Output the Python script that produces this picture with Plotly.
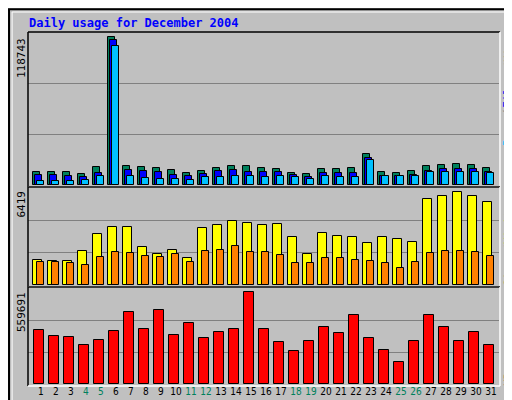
import plotly.graph_objects as go

days = list(range(1, 32))
weekend = {4, 5, 11, 12, 18, 19, 25, 26}
hits = [10744,10744,10744,9133,14774,118743,15580,14774,13968,12356,9939,11550,13968,15580,15580,13968,
        13162,9939,9133,13162,13162,13968,25250,10744,9939,11550,15580,16385,17191,16385,13968]
files = [8327,8327,7521,6715,9939,116310,12356,11550,10744,8327,7521,9133,11550,12356,10744,10744,
         10744,8327,6715,9939,9939,9939,22026,7521,7521,8327,11550,13162,13162,13162,10744]
pages = [3492,3492,3492,4298,7521,111475,7521,5910,5104,5104,4298,6715,6715,7521,7521,6715,
         7521,6715,5104,7521,6715,6715,20414,7521,7521,7521,10744,10744,10744,10744,9939]
visits = [1761,1692,1692,2317,3499,3986,3986,2595,2109,2387,1831,3916,4125,4403,4264,4125,
          4194,3291,2109,3569,3360,3291,2873,3291,3152,2943,5932,6141,6419,6141,5724]
sites = [1622,1622,1553,1414,1900,2248,2178,1970,1900,2109,1622,2317,2387,2665,2248,2248,
         2039,1553,1553,1831,1831,1761,1692,1553,1205,1622,2178,2317,2317,2248,1970]
kbytes = [326830,290060,283930,234910,265550,320700,437140,332960,449390,296190,369730,277800,314570,332960,559691,332960,
          253290,198140,259420,345210,308440,418750,277800,204270,136860,259420,418750,345210,259420,314570,234910]

W, H = 512, 400
fig = go.Figure()
xr = [1 - 5/15, 1 - 5/15 + 471/15]
dom_x = [20/W, 491/W]
panels = [
    ("y", 25, 177, 118743 * 152 / 148),
    ("y2", 180, 277, 6419 * 96 / 92),
    ("y3", 280, 376, 559691 * 95 / 91),
]

def bar(vals, color, off, wid, yax):
    fig.add_trace(go.Bar(x=days, y=vals, offset=off, width=wid, marker_color=color,
                         marker_line=dict(color="black", width=1), xaxis="x", yaxis=yax,
                         showlegend=False, hoverinfo="skip"))

bar(hits, "#00805c", 0, 0.47, "y")
bar(files, "#0000ff", 0.153, 0.47, "y")
bar(pages, "#00c0ff", 0.287, 0.47, "y")
bar(visits, "#ffff00", 0, 0.58, "y2")
bar(sites, "#ff8000", 0.27, 0.45, "y2")
bar(kbytes, "#ff0000", 0.067, 0.68, "y3")

ticktext = [f"<span style='color:#00805c'>{d}</span>" if d in weekend else str(d) for d in days]
lay = dict(
    width=W, height=H, margin=dict(l=0, r=0, t=0, b=0, autoexpand=False), paper_bgcolor="#c0c0c0",
    plot_bgcolor="#c0c0c0", barmode="overlay", bargap=0,
    font=dict(family="DejaVu Sans Mono", size=11, color="black"),
    xaxis=dict(domain=dom_x, range=xr, anchor="y3", tickvals=[d + 0.53 for d in days],
               ticktext=ticktext, ticks="", showgrid=False, zeroline=False, tickangle=0,
               automargin=False, tickfont=dict(size=10, family="DejaVu Sans Condensed")),
)
shapes = []
annotations = []
for name, top, bot, mx in panels:
    key = "yaxis" if name == "y" else "yaxis" + name[1:]
    lay[key] = dict(domain=[1 - bot / H, 1 - top / H], range=[0, mx], showticklabels=False,
                    ticks="", zeroline=False, showgrid=True, gridcolor="#808080", gridwidth=1,
                    tickvals=[mx / 3, 2 * mx / 3], anchor="x", automargin=False)
    x0, x1 = 20 / W, 492 / W
    y0, y1 = 1 - (bot + 2) / H, 1 - (top - 1) / H
    shapes += [
        dict(type="line", xref="paper", yref="paper", x0=x0, x1=x1, y0=y1, y1=y1, line=dict(color="black", width=1.5)),
        dict(type="line", xref="paper", yref="paper", x0=x0, x1=x0, y0=y0, y1=y1, line=dict(color="black", width=1.5)),
        dict(type="line", xref="paper", yref="paper", x0=x0, x1=x1, y0=y0, y1=y0, line=dict(color="white", width=1.5)),
        dict(type="line", xref="paper", yref="paper", x0=x1, x1=x1, y0=y0, y1=y1, line=dict(color="white", width=1.5)),
    ]
shapes.append(dict(type="rect", xref="paper", yref="paper", x0=0.002, x1=0.998, y0=0.003, y1=0.997,
                   line=dict(color="black", width=2)))
shapes.append(dict(type="rect", xref="paper", yref="paper", x0=0.008, x1=0.99, y0=0.01, y1=0.99,
                   line=dict(color="white", width=1)))
lay["shapes"] = shapes

def ann(text, x, y, xanchor, yanchor, angle=0, color="black", size=11):
    annotations.append(dict(text=text, x=x / W, y=1 - y / H, xref="paper", yref="paper", showarrow=False,
                            xanchor=xanchor, yanchor=yanchor, textangle=angle,
                            font=dict(color=color, size=size)))

ann("<b>Daily usage for December 2004</b>", 19, 15, "left", "middle", color="#0000ff", size=12)
ann("118743", 13, 28, "center", "top", -90)
ann("6419", 13, 181, "center", "top", -90)
ann("559691", 13, 282, "center", "top", -90)
for txt, yc, col in [("Hits", 41, "#00805c"), ("/", 58, "#808080"), ("Files", 84, "#0000ff"),
                     ("/", 105, "#808080"), ("Pages", 122, "#00c0ff"),
                     ("Visits", 216, "#ffff00"), ("/", 240, "#808080"), ("Sites", 262, "#ff8000"),
                     ("KBytes", 358, "#ff0000")]:
    ann(txt, 500, yc, "center", "middle", -90, col)
lay["annotations"] = annotations
fig.update_layout(**lay)
fig.write_html("out.html")
